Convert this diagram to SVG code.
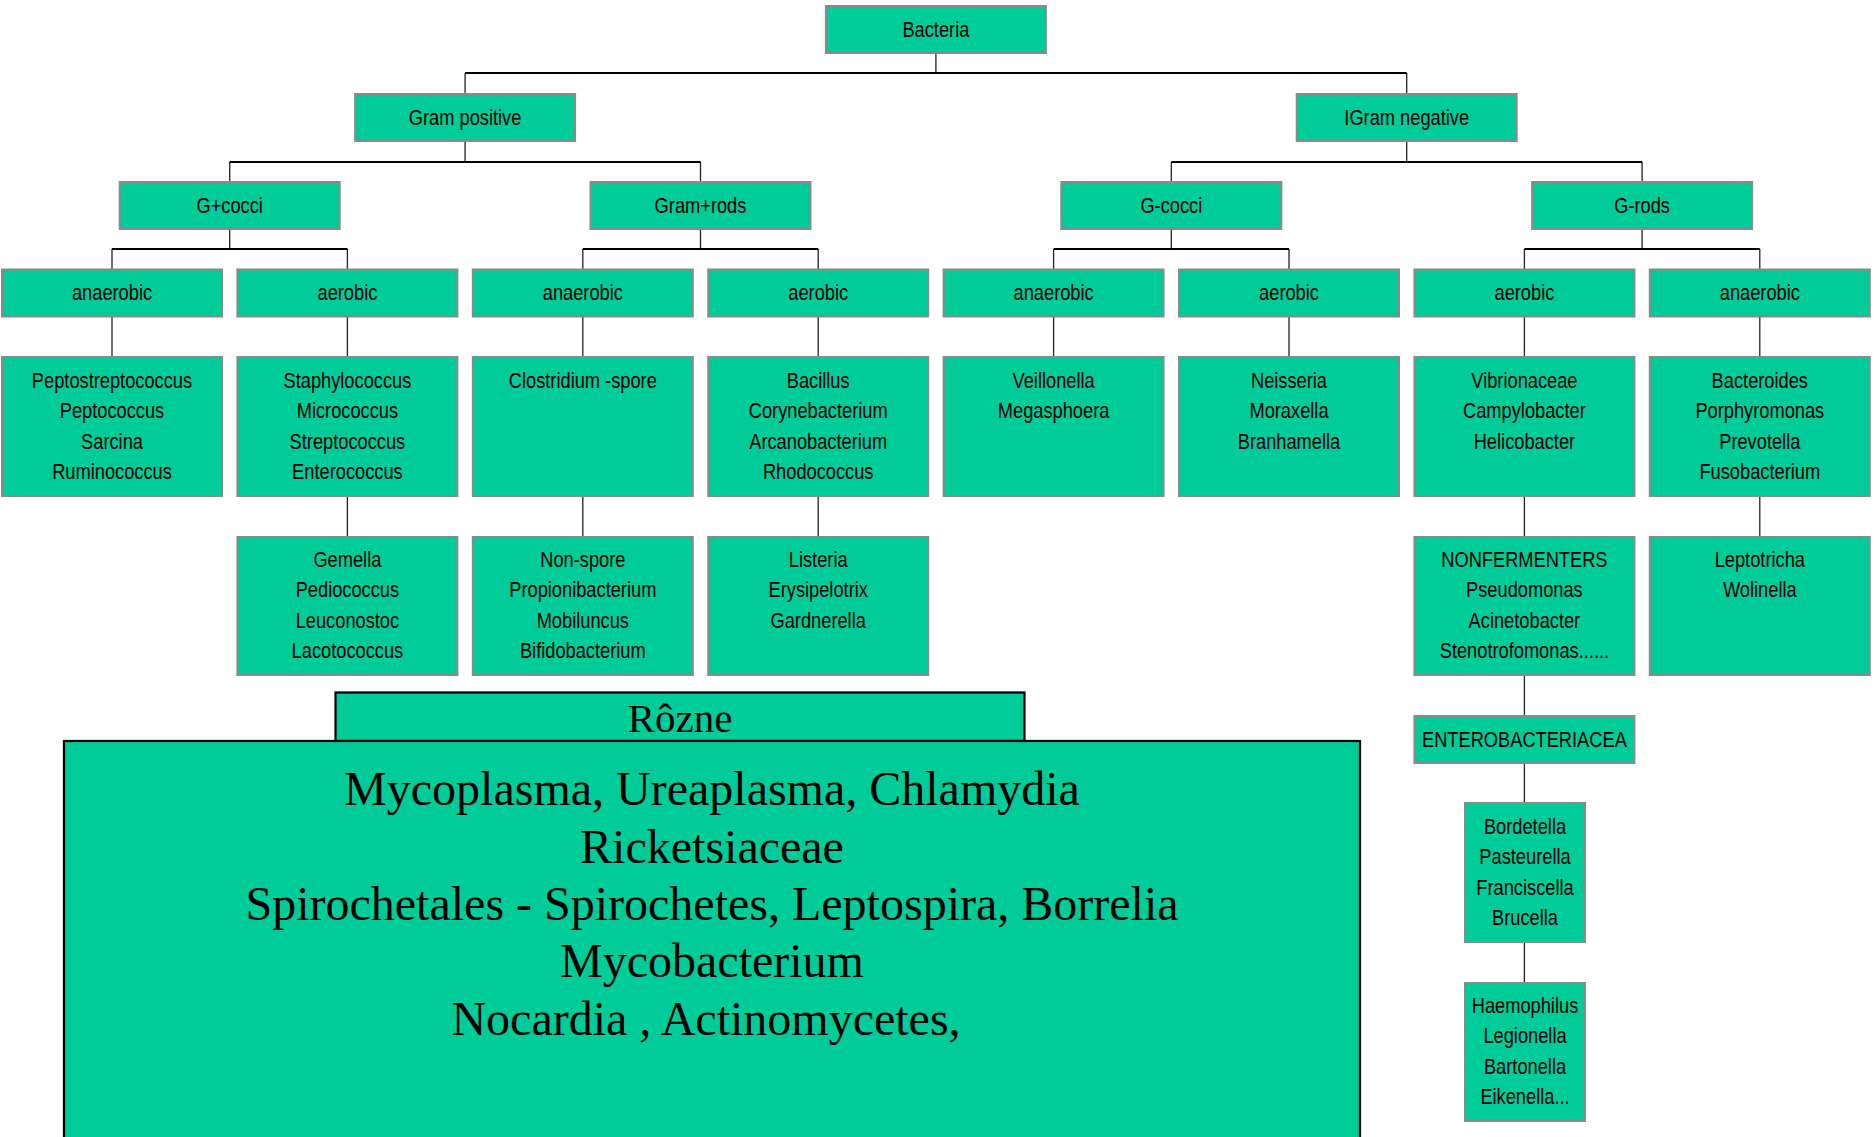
<svg xmlns="http://www.w3.org/2000/svg" width="1876" height="1137" viewBox="0 0 1876 1137">
<style>
.b{fill:#00CC99;stroke:#8a8a8a;stroke-width:2}
.t{font-family:"Liberation Sans",Arial,sans-serif;font-size:22px;fill:#000;text-anchor:middle}
.s{font-family:"Liberation Serif","Times New Roman",serif;fill:#000;text-anchor:middle}
.bus{fill:none;stroke:#000;stroke-width:2}
.stem{fill:none;stroke:#222;stroke-width:1.3}
.big{fill:#00CC99;stroke:#000;stroke-width:2.2}
</style>
<rect width="1876" height="1137" fill="#fff"/>
<g id="connectors">
<path class="stem" d="M935.9 53V73M465.1 73V94M1406.7 73V94M465.1 141V162M1406.7 141V162M229.7 162V182M700.5 162V182M1171.3 162V182M1642.1 162V182M229.7 229V249M700.5 229V249M1171.3 229V249M1642.1 229V249M112 249V269.5M347.4 249V269.5M582.8 249V269.5M818.2 249V269.5M1053.6 249V269.5M1289 249V269.5M1524.4 249V269.5M1759.8 249V269.5"/>
<path class="bus" d="M465.1 73H1406.7M229.7 162H700.5M1171.3 162H1642.1M112 249H347.4M582.8 249H818.2M1053.6 249H1289M1524.4 249H1759.8"/>
<path class="stem" d="M112 316.5V357M347.4 316.5V357M582.8 316.5V357M818.2 316.5V357M1053.6 316.5V357M1289 316.5V357M1524.4 316.5V357M1759.8 316.5V357M347.4 496V537M582.8 496V537M818.2 496V537M1524.4 496V537M1759.8 496V537M1524.4 675V716M1524.4 763V803M1524.4 942V983"/>
</g>
<g id="bacteria"><rect class="b" x="825.9" y="6" width="220" height="47"/><text class="t" transform="matrix(0.83 0 0 1 935.9 0)"><tspan x="0" y="37.5">Bacteria</tspan></text></g>
<g id="gram-positive"><rect class="b" x="355.1" y="94" width="220" height="47"/><text class="t" transform="matrix(0.83 0 0 1 465.1 0)"><tspan x="0" y="125.5">Gram positive</tspan></text></g>
<g id="gram-negative"><rect class="b" x="1296.7" y="94" width="220" height="47"/><text class="t" transform="matrix(0.83 0 0 1 1406.7 0)"><tspan x="0" y="125.5">IGram negative</tspan></text></g>
<g id="g-plus-cocci"><rect class="b" x="119.7" y="182" width="220" height="47"/><text class="t" transform="matrix(0.83 0 0 1 229.7 0)"><tspan x="0" y="213.5">G+cocci</tspan></text></g>
<g id="gram-plus-rods"><rect class="b" x="590.5" y="182" width="220" height="47"/><text class="t" transform="matrix(0.83 0 0 1 700.5 0)"><tspan x="0" y="213.5">Gram+rods</tspan></text></g>
<g id="g-minus-cocci"><rect class="b" x="1061.3" y="182" width="220" height="47"/><text class="t" transform="matrix(0.83 0 0 1 1171.3 0)"><tspan x="0" y="213.5">G-cocci</tspan></text></g>
<g id="g-minus-rods"><rect class="b" x="1532.1" y="182" width="220" height="47"/><text class="t" transform="matrix(0.83 0 0 1 1642.1 0)"><tspan x="0" y="213.5">G-rods</tspan></text></g>
<g id="gpc-anaerobic"><rect class="b" x="2" y="269.5" width="220" height="47"/><text class="t" transform="matrix(0.83 0 0 1 112 0)"><tspan x="0" y="300.5">anaerobic</tspan></text></g>
<g id="gpc-aerobic"><rect class="b" x="237.4" y="269.5" width="220" height="47"/><text class="t" transform="matrix(0.83 0 0 1 347.4 0)"><tspan x="0" y="300.5">aerobic</tspan></text></g>
<g id="gpr-anaerobic"><rect class="b" x="472.8" y="269.5" width="220" height="47"/><text class="t" transform="matrix(0.83 0 0 1 582.8 0)"><tspan x="0" y="300.5">anaerobic</tspan></text></g>
<g id="gpr-aerobic"><rect class="b" x="708.2" y="269.5" width="220" height="47"/><text class="t" transform="matrix(0.83 0 0 1 818.2 0)"><tspan x="0" y="300.5">aerobic</tspan></text></g>
<g id="gnc-anaerobic"><rect class="b" x="943.6" y="269.5" width="220" height="47"/><text class="t" transform="matrix(0.83 0 0 1 1053.6 0)"><tspan x="0" y="300.5">anaerobic</tspan></text></g>
<g id="gnc-aerobic"><rect class="b" x="1179" y="269.5" width="220" height="47"/><text class="t" transform="matrix(0.83 0 0 1 1289 0)"><tspan x="0" y="300.5">aerobic</tspan></text></g>
<g id="gnr-aerobic"><rect class="b" x="1414.4" y="269.5" width="220" height="47"/><text class="t" transform="matrix(0.83 0 0 1 1524.4 0)"><tspan x="0" y="300.5">aerobic</tspan></text></g>
<g id="gnr-anaerobic"><rect class="b" x="1649.8" y="269.5" width="220" height="47"/><text class="t" transform="matrix(0.83 0 0 1 1759.8 0)"><tspan x="0" y="300.5">anaerobic</tspan></text></g>
<g id="peptostreptococcus"><rect class="b" x="2" y="357" width="220" height="139"/><text class="t" transform="matrix(0.83 0 0 1 112 0)"><tspan x="0" y="388">Peptostreptococcus</tspan><tspan x="0" y="418.5">Peptococcus</tspan><tspan x="0" y="449">Sarcina</tspan><tspan x="0" y="479.5">Ruminococcus</tspan></text></g>
<g id="staphylococcus"><rect class="b" x="237.4" y="357" width="220" height="139"/><text class="t" transform="matrix(0.83 0 0 1 347.4 0)"><tspan x="0" y="388">Staphylococcus</tspan><tspan x="0" y="418.5">Micrococcus</tspan><tspan x="0" y="449">Streptococcus</tspan><tspan x="0" y="479.5">Enterococcus</tspan></text></g>
<g id="clostridium"><rect class="b" x="472.8" y="357" width="220" height="139"/><text class="t" transform="matrix(0.83 0 0 1 582.8 0)"><tspan x="0" y="388">Clostridium -spore</tspan></text></g>
<g id="bacillus"><rect class="b" x="708.2" y="357" width="220" height="139"/><text class="t" transform="matrix(0.83 0 0 1 818.2 0)"><tspan x="0" y="388">Bacillus</tspan><tspan x="0" y="418.5">Corynebacterium</tspan><tspan x="0" y="449">Arcanobacterium</tspan><tspan x="0" y="479.5">Rhodococcus</tspan></text></g>
<g id="veillonella"><rect class="b" x="943.6" y="357" width="220" height="139"/><text class="t" transform="matrix(0.83 0 0 1 1053.6 0)"><tspan x="0" y="388">Veillonella</tspan><tspan x="0" y="418.5">Megasphoera</tspan></text></g>
<g id="neisseria"><rect class="b" x="1179" y="357" width="220" height="139"/><text class="t" transform="matrix(0.83 0 0 1 1289 0)"><tspan x="0" y="388">Neisseria</tspan><tspan x="0" y="418.5">Moraxella</tspan><tspan x="0" y="449">Branhamella</tspan></text></g>
<g id="vibrionaceae"><rect class="b" x="1414.4" y="357" width="220" height="139"/><text class="t" transform="matrix(0.83 0 0 1 1524.4 0)"><tspan x="0" y="388">Vibrionaceae</tspan><tspan x="0" y="418.5">Campylobacter</tspan><tspan x="0" y="449">Helicobacter</tspan></text></g>
<g id="bacteroides"><rect class="b" x="1649.8" y="357" width="220" height="139"/><text class="t" transform="matrix(0.83 0 0 1 1759.8 0)"><tspan x="0" y="388">Bacteroides</tspan><tspan x="0" y="418.5">Porphyromonas</tspan><tspan x="0" y="449">Prevotella</tspan><tspan x="0" y="479.5">Fusobacterium</tspan></text></g>
<g id="gemella"><rect class="b" x="237.4" y="537" width="220" height="138"/><text class="t" transform="matrix(0.83 0 0 1 347.4 0)"><tspan x="0" y="567">Gemella</tspan><tspan x="0" y="597.5">Pediococcus</tspan><tspan x="0" y="628">Leuconostoc</tspan><tspan x="0" y="658.5">Lacotococcus</tspan></text></g>
<g id="non-spore"><rect class="b" x="472.8" y="537" width="220" height="138"/><text class="t" transform="matrix(0.83 0 0 1 582.8 0)"><tspan x="0" y="567">Non-spore</tspan><tspan x="0" y="597.5">Propionibacterium</tspan><tspan x="0" y="628">Mobiluncus</tspan><tspan x="0" y="658.5">Bifidobacterium</tspan></text></g>
<g id="listeria"><rect class="b" x="708.2" y="537" width="220" height="138"/><text class="t" transform="matrix(0.83 0 0 1 818.2 0)"><tspan x="0" y="567">Listeria</tspan><tspan x="0" y="597.5">Erysipelotrix</tspan><tspan x="0" y="628">Gardnerella</tspan></text></g>
<g id="nonfermenters"><rect class="b" x="1414.4" y="537" width="220" height="138"/><text class="t" transform="matrix(0.83 0 0 1 1524.4 0)"><tspan x="0" y="567">NONFERMENTERS</tspan><tspan x="0" y="597.5">Pseudomonas</tspan><tspan x="0" y="628">Acinetobacter</tspan><tspan x="0" y="658.5">Stenotrofomonas......</tspan></text></g>
<g id="leptotricha"><rect class="b" x="1649.8" y="537" width="220" height="138"/><text class="t" transform="matrix(0.83 0 0 1 1759.8 0)"><tspan x="0" y="567">Leptotricha</tspan><tspan x="0" y="597.5">Wolinella</tspan></text></g>
<g id="enterobacteriacea"><rect class="b" x="1414.4" y="716" width="220" height="47"/><text class="t" transform="matrix(0.83 0 0 1 1524.4 0)"><tspan x="0" y="747">ENTEROBACTERIACEA</tspan></text></g>
<g id="bordetella"><rect class="b" x="1465" y="803" width="120" height="139"/><text class="t" transform="matrix(0.83 0 0 1 1525 0)"><tspan x="0" y="834">Bordetella</tspan><tspan x="0" y="864.5">Pasteurella</tspan><tspan x="0" y="895">Franciscella</tspan><tspan x="0" y="925.5">Brucella</tspan></text></g>
<g id="haemophilus"><rect class="b" x="1465" y="983" width="120" height="138"/><text class="t" transform="matrix(0.83 0 0 1 1525 0)"><tspan x="0" y="1013">Haemophilus</tspan><tspan x="0" y="1043.5">Legionella</tspan><tspan x="0" y="1074">Bartonella</tspan><tspan x="0" y="1104.5">Eikenella...</tspan></text></g>
<g id="rozne"><rect class="big" x="335.5" y="692.5" width="689" height="48.5"/><text class="s" x="680" y="732" font-size="41">Rôzne</text></g>
<g id="rozne-list"><rect class="big" x="64" y="741" width="1296" height="420"/><text class="s" font-size="48"><tspan x="712" y="805">Mycoplasma, Ureaplasma, Chlamydia</tspan><tspan x="712" y="862.5">Ricketsiaceae</tspan><tspan x="712" y="920">Spirochetales - Spirochetes, Leptospira, Borrelia</tspan><tspan x="712" y="977">Mycobacterium</tspan><tspan x="706" y="1034.5">Nocardia , Actinomycetes,</tspan></text></g>
</svg>
